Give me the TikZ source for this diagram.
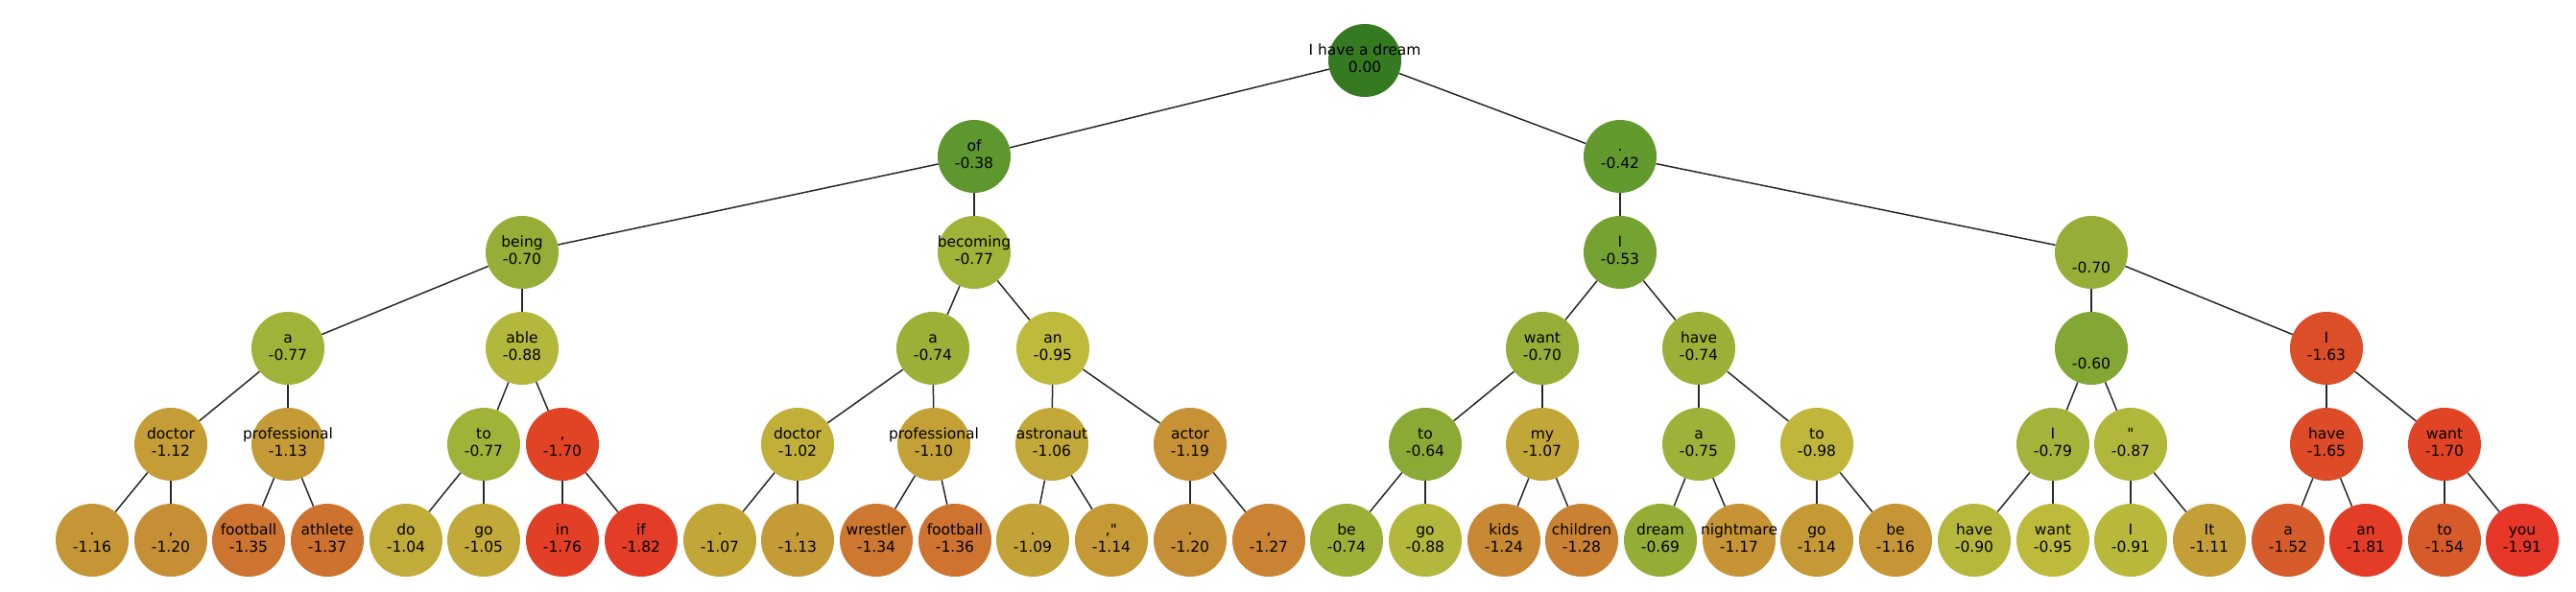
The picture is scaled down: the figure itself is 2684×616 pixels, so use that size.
\documentclass[tikz,border=0pt]{standalone}
\usepackage{fontspec}
\newfontfamily\dv{DejaVu Sans}
\definecolor{k0}{RGB}{53,122,32}
\definecolor{k1}{RGB}{98,154,46}
\definecolor{k2}{RGB}{150,174,55}
\definecolor{k3}{RGB}{190,187,60}
\definecolor{k4}{RGB}{205,117,48}
\definecolor{k5}{RGB}{224,68,37}
\definecolor{k6}{RGB}{231,55,40}
\definecolor{edgecol}{RGB}{40,40,40}
\newcommand\mixseg[5]{% t, t0, t1, colour0, colour1
  \pgfmathsetmacro\myp{100*(#1-#2)/(#3-#2)}\colorlet{nc}{#5!\myp!#4}}
\newcommand\setcol[1]{%
  \pgfmathsetmacro\myt{-(#1)}%
  \ifdim\myt pt<0.42pt \mixseg{\myt}{0}{0.42}{k0}{k1}%
  \else\ifdim\myt pt<0.70pt \mixseg{\myt}{0.42}{0.70}{k1}{k2}%
  \else\ifdim\myt pt<0.95pt \mixseg{\myt}{0.70}{0.95}{k2}{k3}%
  \else\ifdim\myt pt<1.35pt \mixseg{\myt}{0.95}{1.35}{k3}{k4}%
  \else\ifdim\myt pt<1.70pt \mixseg{\myt}{1.35}{1.70}{k4}{k5}%
  \else \mixseg{\myt}{1.70}{1.91}{k5}{k6}%
  \fi\fi\fi\fi\fi}
\newcommand\tlab[1]{\makebox[0pt]{\dv\fontsize{15.5}{18.3}\selectfont\begin{tabular}{@{}c@{}}#1\end{tabular}}}
\newcommand\tn[5]{\setcol{#4}\node[tnode, fill=nc] (#1) at (#2,#3) {\tlab{#5\\#4}};}
\begin{document}
\begin{tikzpicture}[x=1pt,y=-1pt,
  tnode/.style={circle, minimum size=76pt, inner sep=0pt, draw=none},
  edge/.style={draw=edgecol, line width=1.5pt}]
\useasboundingbox (0,0) rectangle (2684,616);
% level 0
\tn{r}{1422}{63}{0.00}{I have a dream}
% level 1
\tn{n1}{1015}{163}{-0.38}{of}
\tn{n2}{1688}{163}{-0.42}{.}
% level 2
\tn{n11}{544}{263}{-0.70}{being}
\tn{n12}{1015}{263}{-0.77}{becoming}
\tn{n21}{1688}{263}{-0.53}{I}
\tn{n22}{2179}{263}{-0.70}{\\}
% level 3
\tn{n111}{300}{363}{-0.77}{a}
\tn{n112}{544}{363}{-0.88}{able}
\tn{n121}{972}{363}{-0.74}{a}
\tn{n122}{1097}{363}{-0.95}{an}
\tn{n211}{1607}{363}{-0.70}{want}
\tn{n212}{1770}{363}{-0.74}{have}
\tn{n221}{2179}{363}{-0.60}{\\}
\tn{n222}{2424}{363}{-1.63}{I}
% level 4
\tn{a1}{178}{463}{-1.12}{doctor}
\tn{a2}{300}{463}{-1.13}{professional}
\tn{a3}{504}{463}{-0.77}{to}
\tn{a4}{586}{463}{-1.70}{,}
\tn{a5}{831}{463}{-1.02}{doctor}
\tn{a6}{973}{463}{-1.10}{professional}
\tn{a7}{1096}{463}{-1.06}{astronaut}
\tn{a8}{1240}{463}{-1.19}{actor}
\tn{a9}{1485}{463}{-0.64}{to}
\tn{a10}{1607}{463}{-1.07}{my}
\tn{a11}{1770}{463}{-0.75}{a}
\tn{a12}{1893}{463}{-0.98}{to}
\tn{a13}{2139}{463}{-0.79}{I}
\tn{a14}{2220}{463}{-0.87}{"}
\tn{a15}{2424}{463}{-1.65}{have}
\tn{a16}{2547}{463}{-1.70}{want}
% level 5
\tn{b0}{96}{563}{-1.16}{.}
\tn{b1}{178}{563}{-1.20}{,}
\tn{b2}{259}{563}{-1.35}{football}
\tn{b3}{341}{563}{-1.37}{athlete}
\tn{b4}{423}{563}{-1.04}{do}
\tn{b5}{504}{563}{-1.05}{go}
\tn{b6}{586}{563}{-1.76}{in}
\tn{b7}{668}{563}{-1.82}{if}
\tn{b8}{750}{563}{-1.07}{.}
\tn{b9}{831}{563}{-1.13}{,}
\tn{b10}{913}{563}{-1.34}{wrestler}
\tn{b11}{995}{563}{-1.36}{football}
\tn{b12}{1076}{563}{-1.09}{.}
\tn{b13}{1158}{563}{-1.14}{,"}
\tn{b14}{1240}{563}{-1.20}{.}
\tn{b15}{1322}{563}{-1.27}{,}
\tn{b16}{1403}{563}{-0.74}{be}
\tn{b17}{1485}{563}{-0.88}{go}
\tn{b18}{1567}{563}{-1.24}{kids}
\tn{b19}{1648}{563}{-1.28}{children}
\tn{b20}{1730}{563}{-0.69}{dream}
\tn{b21}{1812}{563}{-1.17}{nightmare}
\tn{b22}{1893}{563}{-1.14}{go}
\tn{b23}{1975}{563}{-1.16}{be}
\tn{b24}{2057}{563}{-0.90}{have}
\tn{b25}{2139}{563}{-0.95}{want}
\tn{b26}{2220}{563}{-0.91}{I}
\tn{b27}{2302}{563}{-1.11}{It}
\tn{b28}{2384}{563}{-1.52}{a}
\tn{b29}{2465}{563}{-1.81}{an}
\tn{b30}{2547}{563}{-1.54}{to}
\tn{b31}{2628}{563}{-1.91}{you}
% edges
\foreach \p/\c in {r/n1, r/n2, n1/n11, n1/n12, n2/n21, n2/n22,
  n11/n111, n11/n112, n12/n121, n12/n122, n21/n211, n21/n212, n22/n221, n22/n222,
  n111/a1, n111/a2, n112/a3, n112/a4, n121/a5, n121/a6, n122/a7, n122/a8,
  n211/a9, n211/a10, n212/a11, n212/a12, n221/a13, n221/a14, n222/a15, n222/a16,
  a1/b0, a1/b1, a2/b2, a2/b3, a3/b4, a3/b5, a4/b6, a4/b7,
  a5/b8, a5/b9, a6/b10, a6/b11, a7/b12, a7/b13, a8/b14, a8/b15,
  a9/b16, a9/b17, a10/b18, a10/b19, a11/b20, a11/b21, a12/b22, a12/b23,
  a13/b24, a13/b25, a14/b26, a14/b27, a15/b28, a15/b29, a16/b30, a16/b31}
  \draw[edge] (\p) -- (\c);
\end{tikzpicture}
\end{document}
